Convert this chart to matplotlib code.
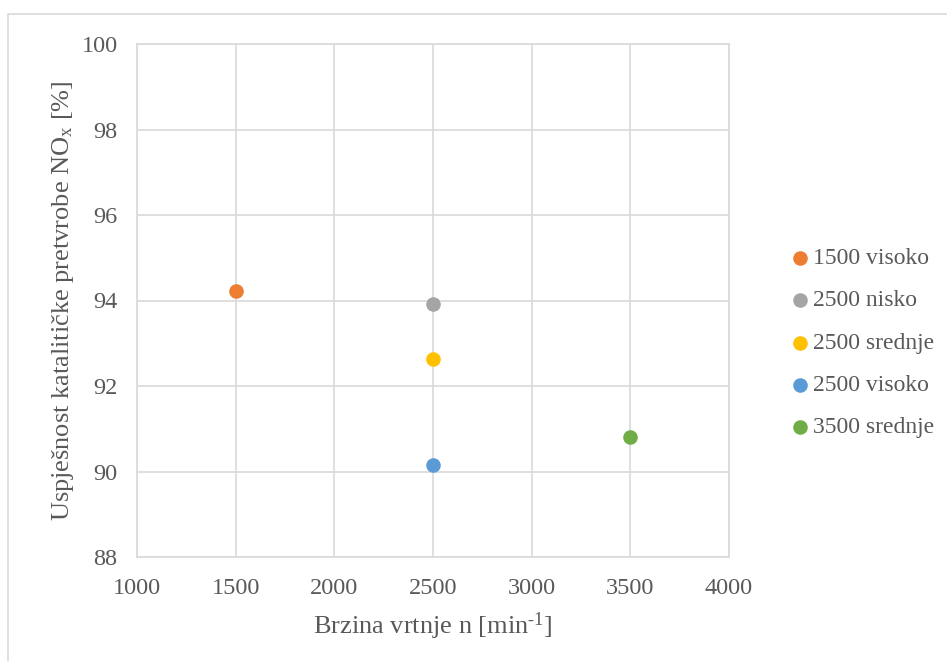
import matplotlib
matplotlib.use("Agg")
import matplotlib.pyplot as plt
from matplotlib.patches import Rectangle

plt.rcParams['font.family'] = ['Liberation Serif', 'DejaVu Serif']
plt.rcParams['mathtext.fontset'] = 'custom'
plt.rcParams['mathtext.rm'] = 'Liberation Serif'
plt.rcParams['mathtext.it'] = 'Liberation Serif:italic'

labels = ['1500 visoko', '2500 nisko', '2500 srednje', '2500 visoko', '3500 srednje']
x_vals = [1500, 2500, 2500, 2500, 3500]
y_vals = [94.22, 93.92, 92.63, 90.15, 90.81]
colors = ['#ED7D31', '#A5A5A5', '#FFC000', '#5B9BD5', '#70AD47']

x_ticks = [1000, 1500, 2000, 2500, 3000, 3500, 4000]
y_ticks = [88, 90, 92, 94, 96, 98, 100]

W, H = 947, 661
fig = plt.figure(figsize=(W / 100, H / 100), dpi=100)
ax = fig.add_axes([137 / W, 1 - 557 / H, (729 - 137) / W, (557 - 44) / H])

# chart border
fig.patches.append(Rectangle((8 / W, -0.1), 1.1, (1 - 14 / H) + 0.1,
                             transform=fig.transFigure, fill=False,
                             edgecolor='#D9D9D9', linewidth=1.2))

for lab, xv, yv, c in zip(labels, x_vals, y_vals, colors):
    ax.scatter([xv], [yv], s=110, color=c, label=lab, zorder=3, linewidths=0)

ax.set_xlim(1000, 4000)
ax.set_ylim(88, 100)
ax.set_xticks(x_ticks)
ax.set_yticks(y_ticks)
ax.grid(True, color='#D9D9D9', linewidth=1.2)
ax.set_axisbelow(True)
for s in ax.spines.values():
    s.set_color('#D9D9D9')
    s.set_linewidth(1.2)
ax.tick_params(length=0, labelsize=17.5, colors='#595959')
ax.tick_params(axis='y', pad=14)
ax.tick_params(axis='x', pad=15)

ax.set_xlabel('Brzina vrtnje n [min$^{\\text{-1}}$]', fontsize=19, color='#595959', labelpad=8.5)
ax.set_ylabel('Uspješnost katalitičke pretvrobe NO$_{\\mathregular{x}}$ [%]', fontsize=19,
              color='#595959', labelpad=4)

leg = ax.legend(loc='center left', bbox_to_anchor=(775 / W, 1 - 343 / H),
                bbox_transform=fig.transFigure, frameon=False, fontsize=17,
                handletextpad=0.0, labelspacing=0.88, borderpad=0,
                handlelength=1.1, markerscale=1.0)
for t in leg.get_texts():
    t.set_color('#595959')

fig.savefig('out.png', dpi=100)
